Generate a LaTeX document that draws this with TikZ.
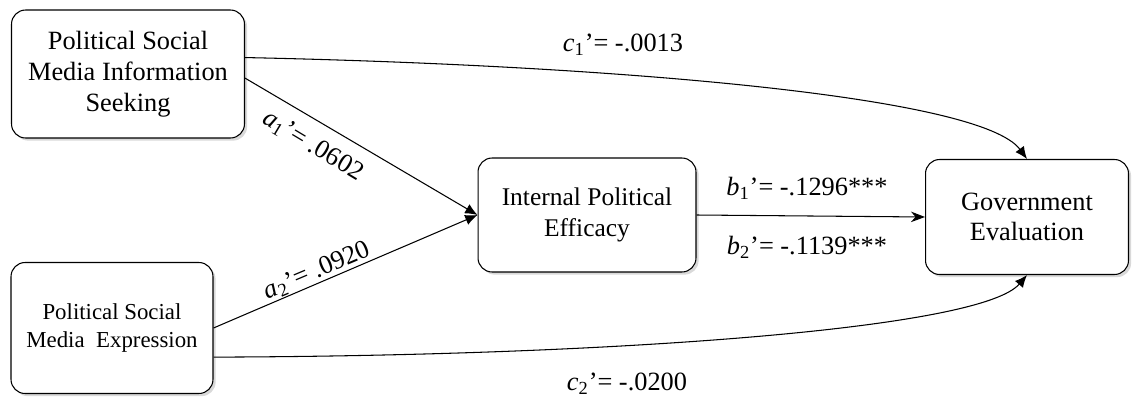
\documentclass[tikz,border=0pt]{standalone}
\usepackage{fontspec}
\setmainfont{Liberation Serif}
\usetikzlibrary{positioning, arrows.meta, shadows}

\begin{document}
\begin{tikzpicture}[x=0.02cm, y=-0.02cm,
        box/.style={draw, line width=0.6pt, rounded corners=8pt, fill=white, align=center, inner sep=2pt,
                    font=\fontsize{15}{17.5}\selectfont,
                    drop shadow={opacity=0.3, shadow xshift=1.5pt, shadow yshift=-1.5pt}},
        link/.style={line width=0.6pt, -{Latex[length=7pt, width=6pt]}},
        coef/.style={font=\fontsize{15}{17}\selectfont, inner sep=1pt}]
    \useasboundingbox (0,0) rectangle (1135,399);
    % boxes
    \node[box, minimum width=4.66cm, minimum height=2.56cm] (seek) at (128,74) {Political Social\\Media Information\\Seeking};
    \node[box, font=\fontsize{13}{16}\selectfont, minimum width=4.04cm, minimum height=2.62cm] (expr) at (112,328) {Political Social\\Media~~Expression};
    \node[box, font=\fontsize{14.5}{17.5}\selectfont, minimum width=4.36cm, minimum height=2.28cm] (eff) at (587,215) {Internal Political\\Efficacy};
    \node[box, minimum width=4.06cm, minimum height=2.30cm] (gov) at (1027,217) {Government\\Evaluation};
    % paths
    \draw[link] (seek.-2) -- (eff.west);
    \draw[link] (expr.east) -- (eff.west);
    \draw[line width=0.6pt, -{Stealth[length=8pt, width=6pt]}] (eff.east) -- (gov.west);
    \draw[link] (seek.8) .. controls (600,65) and (980,95) .. (gov.north);
    \draw[link] (expr.-16.5) .. controls (600,356) and (980,330) .. (gov.south);
    % coefficients
    \node[coef, rotate=-31] (a1) at (313,146) {\textit{a}\textsubscript{1}’= .0602};
    \node[coef, rotate=23] (a2) at (317,271) {\textit{a}\textsubscript{2}’= .0920};
    \node[coef] (b1) at (807,188) {\textit{b}\textsubscript{1}’= -.1296***};
    \node[coef] (b2) at (807,247) {\textit{b}\textsubscript{2}’= -.1139***};
    \node[coef] (c1) at (623,45) {\textit{c}\textsubscript{1}’= -.0013};
    \node[coef] (c2) at (627,384) {\textit{c}\textsubscript{2}’= -.0200};
\end{tikzpicture}
\end{document}
